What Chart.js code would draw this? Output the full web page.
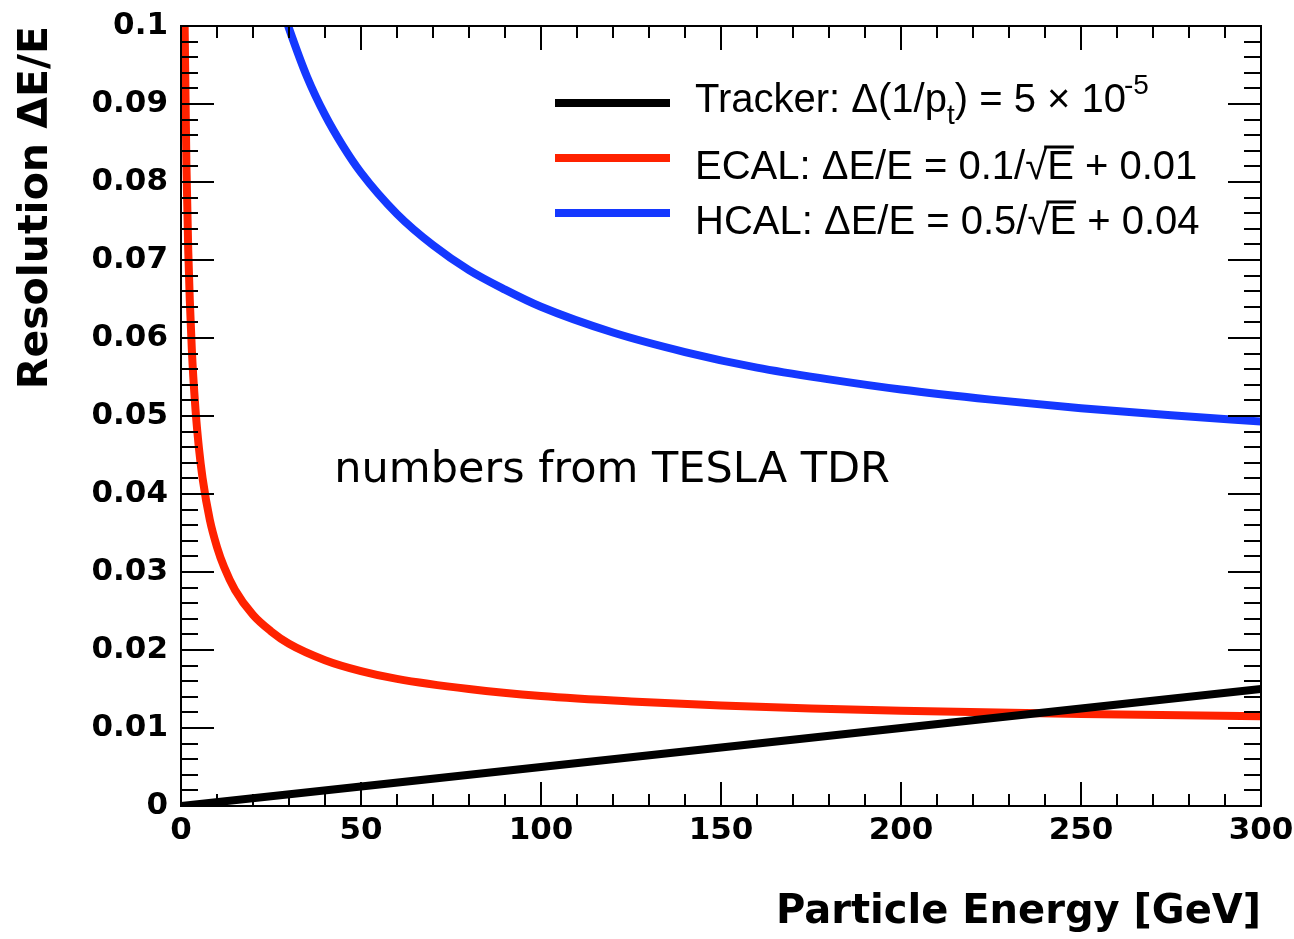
<!DOCTYPE html>
<html>
<head>
<meta charset="utf-8">
<script src="https://cdn.jsdelivr.net/npm/chart.js@4.4.1/dist/chart.umd.min.js"></script>
<style>
  html, body { margin: 0; padding: 0; background: #fff; }
  #wrap { width: 1294px; height: 939px; }
</style>
</head>
<body>
<div id="wrap"><canvas id="c" width="1294" height="939"></canvas></div>
<script>
// ---- data ----
const energyTracker = [0, 50, 100, 150, 200, 250, 300];
const trackerRes    = [0, 0.0025, 0.005, 0.0075, 0.010, 0.0125, 0.015];

const energyEcal = [1, 1.5, 2, 3, 4, 5, 6, 8, 10, 12, 15, 20, 25, 30, 40, 50, 60, 80, 100, 125, 150, 175, 200, 250, 300];
const ecalRes    = [0.1005, 0.0823, 0.0714, 0.0586, 0.0510, 0.0458, 0.0420, 0.0367, 0.0332, 0.0306, 0.0277, 0.0245, 0.0224, 0.0208, 0.0187, 0.0173, 0.0163, 0.0150, 0.0141, 0.0134, 0.0129, 0.0125, 0.0122, 0.0118, 0.0115];

const energyHcal = [29, 30, 35, 40, 45, 50, 60, 70, 80, 90, 100, 120, 140, 160, 180, 200, 225, 250, 275, 300];
const hcalRes    = [0.1011, 0.0997, 0.0935, 0.0886, 0.0846, 0.0812, 0.0759, 0.0719, 0.0687, 0.0662, 0.0640, 0.0607, 0.0582, 0.0562, 0.0547, 0.0534, 0.0521, 0.0510, 0.0501, 0.0493];

const xTickLabels = [0, 50, 100, 150, 200, 250, 300];
const yTickLabels = ['0', '0.01', '0.02', '0.03', '0.04', '0.05', '0.06', '0.07', '0.08', '0.09', '0.1'];

const seriesLabels = ['Tracker: \u0394(1/p_t) = 5 \u00d7 10^-5', 'ECAL: \u0394E/E = 0.1/\u221aE + 0.01', 'HCAL: \u0394E/E = 0.5/\u221aE + 0.04'];
const colors = ['#000000', '#ff2200', '#1438ff'];

const toXY = (xs, ys) => xs.map((v, i) => ({x: v, y: ys[i]}));

// ---- ROOT-style inward ticks, frame, legend and note ----
const rootFrame = {
  id: 'rootFrame',
  afterDatasetsDraw(chart) {
    const {ctx, chartArea: a, scales: {x, y}} = chart;
    ctx.save();
    ctx.strokeStyle = '#000';
    ctx.lineWidth = 2;
    ctx.beginPath();
    x.ticks.forEach(t => {
      const px = Math.round(x.getPixelForValue(t.value));
      const major = Math.round(t.value) % 50 === 0;
      const len = major ? 24 : 12;
      if (px > a.left + 1 && px < a.right - 1) {
        ctx.moveTo(px, a.bottom); ctx.lineTo(px, a.bottom - len);
        ctx.moveTo(px, a.top); ctx.lineTo(px, a.top + len);
      }
    });
    y.ticks.forEach(t => {
      const py = Math.round(y.getPixelForValue(t.value));
      const major = Math.round(t.value * 1000) % 10 === 0;
      const len = major ? 33 : 17;
      if (py > a.top + 1 && py < a.bottom - 1) {
        ctx.moveTo(a.left, py); ctx.lineTo(a.left + len, py);
        ctx.moveTo(a.right, py); ctx.lineTo(a.right - len, py);
      }
    });
    ctx.stroke();
    ctx.strokeRect(a.left, a.top, a.right - a.left, a.bottom - a.top);

    // note
    ctx.fillStyle = '#000';
    ctx.font = '43px "DejaVu Sans"';
    ctx.textBaseline = 'alphabetic';
    ctx.textAlign = 'left';
    ctx.fillText('numbers from TESLA TDR', x.getPixelForValue(42.6), y.getPixelForValue(0.0416));

    // legend
    const lx0 = 555, lx1 = 670, tx = 695;
    const rows = [103, 158, 213];
    const base = [112, 179, 234];
    const fs = 40;
    const font = fs + 'px "Liberation Sans", Arial, sans-serif';
    const small = Math.round(fs * 0.7) + 'px "Liberation Sans", Arial, sans-serif';
    chart.data.datasets.forEach((ds, i) => {
      ctx.strokeStyle = ds.borderColor;
      ctx.lineWidth = 8;
      ctx.beginPath(); ctx.moveTo(lx0, rows[i]); ctx.lineTo(lx1, rows[i]); ctx.stroke();
    });
    ctx.fillStyle = '#000';
    let cx = tx, by = base[0];
    const put = (s, f, dy) => { ctx.font = f; ctx.fillText(s, cx, by + (dy || 0)); cx += ctx.measureText(s).width; };
    put('Tracker: \u0394(1/p', font);
    put('t', small, 12);
    put(') = 5 \u00d7 10', font);
    cx -= 2;
    put('-5', small, -18);
    const sqrtRow = (pre, post, r) => {
      cx = tx; by = base[r];
      put(pre, font);
      put('\u221a', font);
      const ex0 = cx;
      put('E', font);
      const ex1 = cx;
      ctx.strokeStyle = '#000'; ctx.lineWidth = 3;
      ctx.beginPath(); ctx.moveTo(ex0 - 3, by - fs * 0.8); ctx.lineTo(ex1, by - fs * 0.8); ctx.stroke();
      put(post, font);
    };
    sqrtRow('ECAL: \u0394E/E = 0.1/', ' + 0.01', 1);
    sqrtRow('HCAL: \u0394E/E = 0.5/', ' + 0.04', 2);
    ctx.restore();
  }
};

const tickFont = {family: '"DejaVu Sans", sans-serif', size: 31, weight: 'bold'};

new Chart(document.getElementById('c'), {
  type: 'line',
  data: {
    datasets: [
      {label: seriesLabels[0], data: toXY(energyTracker, trackerRes), borderColor: colors[0], borderWidth: 8, pointRadius: 0, clip: 0, fill: false},
      {label: seriesLabels[1], data: toXY(energyEcal, ecalRes), borderColor: colors[1], borderWidth: 8, pointRadius: 0, clip: 0, fill: false, cubicInterpolationMode: 'monotone'},
      {label: seriesLabels[2], data: toXY(energyHcal, hcalRes), borderColor: colors[2], borderWidth: 8, pointRadius: 0, clip: 0, fill: false, cubicInterpolationMode: 'monotone'}
    ]
  },
  options: {
    responsive: false,
    animation: false,
    events: [],
    layout: {padding: {top: 26, right: 33, left: 0, bottom: 0}},
    plugins: {legend: {display: false}, tooltip: {enabled: false}},
    scales: {
      x: {
        type: 'linear', min: 0, max: 300,
        grid: {display: false, drawTicks: false},
        border: {display: false},
        ticks: {
          stepSize: 10, autoSkip: false, maxRotation: 0, padding: 6, color: '#000', font: tickFont,
          callback: (v) => { const i = xTickLabels.indexOf(Math.round(v)); return (Math.abs(v - Math.round(v)) < 1e-6 && i >= 0) ? String(xTickLabels[i]) : ''; }
        },
        title: {display: true, text: 'Particle Energy [GeV]', align: 'end', color: '#000',
          font: {family: '"DejaVu Sans", sans-serif', size: 40, weight: 'bold'}, padding: {top: 0, bottom: 2}},
        afterFit: (s) => { s.height = 133; s.paddingLeft = 0; s.paddingRight = 0; }
      },
      y: {
        type: 'linear', min: 0, max: 0.1,
        grid: {display: false, drawTicks: false},
        border: {display: false},
        ticks: {
          stepSize: 0.002, autoSkip: false, padding: 13, color: '#000', font: tickFont,
          callback: (v) => { const k = Math.round(v * 1000); return k % 10 === 0 ? yTickLabels[k / 10] : ''; }
        },
        title: {display: true, text: 'Resolution \u0394E/E', align: 'end', color: '#000',
          font: {family: '"DejaVu Sans", sans-serif', size: 41, weight: 'bold'}, padding: {top: 12, bottom: 0}},
        afterFit: (s) => { s.width = 181; s.paddingTop = 0; s.paddingBottom = 0; }
      }
    }
  },
  plugins: [rootFrame]
});
</script>
</body>
</html>
